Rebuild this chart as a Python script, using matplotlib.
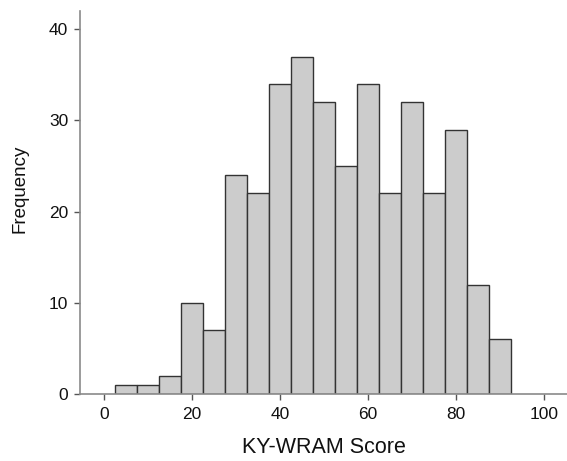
import numpy as np
import matplotlib
matplotlib.use("Agg")
import matplotlib.pyplot as plt

plt.rcParams['font.family'] = ['Liberation Sans', 'DejaVu Sans']

# histogram data (bins of width 5)
bin_starts = [2.5, 7.5, 12.5, 17.5, 22.5, 27.5, 32.5, 37.5, 42.5,
              47.5, 52.5, 57.5, 62.5, 67.5, 72.5, 77.5, 82.5, 87.5]
counts = [1, 1, 2, 10, 7, 24, 22, 34, 37, 32, 25, 34, 22, 32, 22, 29, 12, 6]
x_ticks = [0, 20, 40, 60, 80, 100]
y_ticks = [0, 10, 20, 30, 40]

fig = plt.figure(figsize=(5.67, 4.61), dpi=100)
ax = fig.add_axes([80 / 567, 67 / 461, 487 / 567, 383 / 461])

ax.bar(bin_starts, counts, width=5, align='edge', color='#cccccc',
       edgecolor='#333333', linewidth=1.0)

ax.set_xlim(-5.45, 105.2)
ax.set_ylim(0, 42)
ax.set_xticks(x_ticks)
ax.set_yticks(y_ticks)

for s in ['top', 'right']:
    ax.spines[s].set_visible(False)
for s in ['left', 'bottom']:
    ax.spines[s].set_color('#8a8a8a')
    ax.spines[s].set_linewidth(1.2)

ax.tick_params(axis='both', colors='#555555', length=4.5, width=1.0,
               labelsize=12.5, labelcolor='#111111')
ax.tick_params(axis='x', pad=5)
ax.tick_params(axis='y', pad=4)

ax.set_xlabel("KY-WRAM Score", fontsize=15.5, color='#111111')
ax.set_ylabel("Frequency", fontsize=13.5, color='#111111')
ax.xaxis.set_label_coords(0.5, -0.112)
ax.yaxis.set_label_coords(-0.105, 0.535)

fig.savefig("out.png", dpi=100)
